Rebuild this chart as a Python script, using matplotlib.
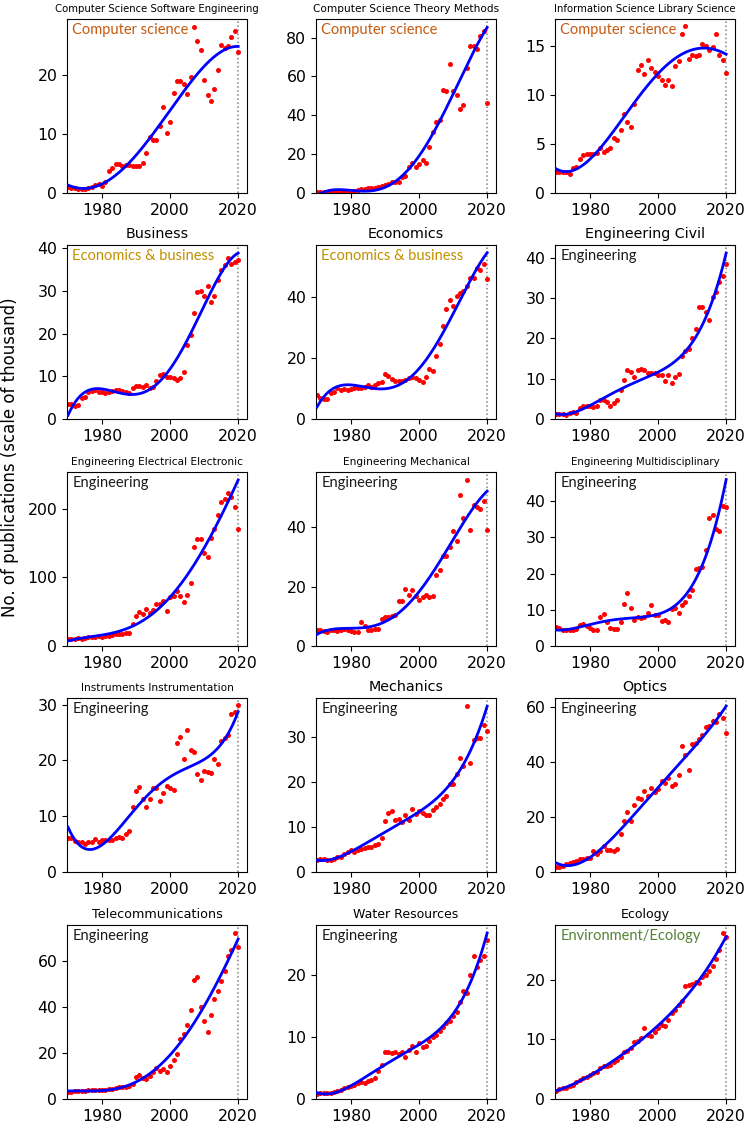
import numpy as np
import matplotlib
matplotlib.use("Agg")
from matplotlib import pyplot as plt

# publication counts per year (scale of thousand)
years = np.arange(1970, 2021)

cs_software = [1.0, 0.8, 0.8, 0.7, 0.7, 0.7, 0.8, 1.1, 1.4, 1.5,
               1.2, 1.8, 3.8, 4.2, 4.9, 4.9, 4.5, 4.7, 4.8, 4.5,
               4.5, 4.5, 5.1, 6.8, 9.5, 9.0, 8.9, 11.4, 14.6, 10.2,
               12.1, 16.9, 18.9, 19.0, 18.5, 16.8, 19.7, 28.1, 25.7, 24.2,
               19.2, 16.6, 15.5, 17.6, 20.9, 25.0, 24.6, 24.9, 26.4, 27.4, 23.8]
cs_theory = [0.3, 0.4, 0.4, 0.5, 0.5, 0.6, 0.6, 0.7, 0.7, 0.8,
             0.9, 1.0, 1.5, 2.0, 2.2, 2.4, 2.5, 2.7, 3.0, 3.4,
             4.0, 4.5, 5.5, 5.8, 5.8, 8.2, 8.5, 13.3, 15.6, 13.2,
             15.0, 17.1, 15.4, 23.6, 31.5, 36.6, 37.6, 52.8, 52.3, 66.3,
             52.5, 50.3, 43.4, 45.1, 64.3, 75.9, 75.6, 74.4, 81.0, 83.6, 46.5]
info_library = [2.1, 2.1, 2.1, 2.1, 1.9, 2.5, 2.7, 3.5, 3.9, 4.0,
                4.0, 4.0, 4.1, 4.6, 4.2, 4.4, 4.6, 5.6, 5.4, 6.4,
                8.1, 7.2, 6.7, 9.1, 12.5, 13.1, 12.1, 13.6, 12.8, 12.3,
                11.9, 11.5, 11.0, 11.5, 10.9, 13.0, 13.5, 16.2, 17.0, 13.7,
                14.1, 14.0, 14.1, 15.2, 15.0, 14.6, 14.9, 16.2, 14.1, 13.6, 12.2]
business = [3.6, 3.5, 3.1, 3.2, 4.8, 5.2, 6.4, 6.5, 6.7, 6.4,
            6.3, 6.2, 6.3, 6.5, 6.8, 6.7, 6.5, 6.3, 6.2, 7.2,
            7.8, 7.7, 7.6, 7.9, 7.2, 7.6, 9.0, 10.2, 10.6, 9.9,
            9.8, 9.5, 9.2, 9.5, 11.0, 17.2, 19.7, 24.9, 29.7, 30.0,
            28.7, 31.2, 27.3, 28.9, 32.6, 34.9, 36.0, 37.6, 36.2, 36.8, 37.1]
economics = [7.8, 7.0, 6.7, 6.7, 8.6, 8.8, 10.1, 9.6, 9.7, 9.4,
             9.7, 10.1, 10.1, 10.2, 10.5, 11.0, 10.6, 11.1, 11.8, 12.0,
             14.6, 14.1, 13.2, 12.6, 12.4, 12.6, 12.8, 13.3, 13.6, 13.4,
             12.9, 12.1, 13.7, 16.4, 15.8, 20.5, 24.5, 30.4, 35.9, 38.9,
             37.1, 40.4, 41.1, 41.9, 43.4, 46.1, 46.3, 49.4, 48.9, 50.7, 45.7]
eng_civil = [1.3, 1.3, 1.3, 1.0, 1.6, 1.8, 1.6, 2.8, 3.2, 3.2,
             3.3, 2.9, 3.3, 4.8, 4.8, 4.1, 3.3, 4.0, 4.8, 7.3,
             9.7, 12.1, 11.7, 10.4, 12.2, 12.3, 12.1, 11.5, 11.5, 11.5,
             11.0, 10.8, 9.4, 11.0, 8.9, 10.4, 11.2, 15.5, 16.9, 17.4,
             20.1, 22.2, 27.8, 27.8, 26.5, 24.5, 30.3, 31.4, 34.0, 35.5, 38.4]
eng_electrical = [10.0, 10.6, 10.6, 11.0, 10.0, 11.6, 12.6, 13.5, 13.5, 14.0,
                  13.5, 14.0, 15.0, 16.0, 18.0, 18.0, 17.4, 19.0, 19.3, 32.4,
                  44.4, 49.8, 46.9, 53.6, 48.8, 52.0, 61.0, 61.0, 65.7, 50.7,
                  71.5, 73.4, 80.7, 73.4, 63.8, 74.4, 91.3, 144.0, 155.6, 155.6,
                  136.0, 129.5, 157.0, 170.0, 191.0, 210.0, 215.0, 222.7, 217.0, 202.4, 170.0]
eng_mechanical = [5.3, 5.3, 4.9, 4.7, 5.3, 5.5, 5.1, 5.5, 5.6, 5.3,
                  5.1, 4.7, 4.7, 8.0, 6.9, 5.5, 5.4, 5.7, 5.7, 9.2,
                  9.7, 9.7, 10.0, 10.4, 15.1, 15.1, 19.2, 17.3, 18.9, 17.0,
                  15.6, 16.6, 17.1, 16.6, 17.0, 23.9, 25.7, 30.4, 30.2, 33.4,
                  38.8, 35.4, 50.8, 43.1, 56.0, 39.2, 47.6, 46.8, 46.1, 48.8, 39.1]
eng_multi = [5.2, 5.0, 4.3, 4.3, 4.3, 4.3, 4.8, 5.8, 6.0, 5.5,
             5.0, 4.3, 4.3, 8.1, 8.8, 6.6, 5.0, 4.8, 4.8, 6.6,
             11.6, 14.6, 10.5, 7.3, 8.1, 7.7, 7.9, 9.2, 11.2, 8.6,
             8.6, 6.9, 7.2, 6.6, 10.3, 10.6, 9.2, 11.4, 12.2, 13.7,
             15.4, 21.3, 21.5, 21.8, 26.5, 35.4, 36.3, 32.4, 31.9, 38.8, 38.5]
instruments = [6.1, 6.1, 5.5, 5.4, 5.3, 5.1, 5.3, 5.3, 6.0, 5.3,
               5.7, 5.8, 5.8, 5.7, 6.1, 6.2, 6.1, 6.8, 7.3, 11.7,
               14.5, 15.3, 13.1, 11.6, 13.1, 15.0, 15.1, 12.7, 14.2, 15.4,
               15.1, 14.7, 23.1, 24.2, 20.3, 25.4, 21.8, 21.5, 17.6, 16.5,
               18.1, 17.9, 17.7, 20.2, 19.4, 23.4, 24.0, 24.6, 28.3, 28.7, 29.9]
mechanics = [2.6, 2.8, 3.0, 2.6, 2.6, 3.0, 3.3, 3.4, 4.0, 4.4,
             4.8, 4.4, 4.9, 5.2, 5.4, 5.5, 5.6, 5.9, 6.2, 7.6,
             11.4, 13.1, 13.6, 11.6, 11.7, 11.2, 12.7, 11.5, 14.1, 12.8,
             13.6, 13.1, 12.6, 12.6, 13.7, 14.4, 15.1, 16.3, 16.9, 19.5,
             19.5, 21.9, 25.3, 23.6, 37.0, 24.3, 29.3, 29.8, 29.8, 32.8, 31.4]
optics = [1.9, 1.9, 2.2, 3.0, 3.4, 3.7, 4.0, 4.7, 4.6, 5.2,
          5.2, 7.6, 6.7, 7.7, 9.4, 8.1, 8.0, 7.8, 8.4, 13.7,
          18.4, 21.8, 18.6, 24.3, 26.9, 26.5, 29.4, 27.5, 30.5, 28.9,
          30.0, 33.0, 32.2, 34.2, 31.1, 31.8, 35.3, 45.9, 42.4, 37.0,
          46.6, 47.0, 48.2, 49.8, 52.5, 52.9, 54.9, 54.6, 57.3, 55.8, 50.4]
telecom = [3.0, 3.2, 3.3, 3.5, 3.4, 3.6, 3.8, 3.7, 3.9, 4.0,
           4.1, 4.0, 4.2, 4.3, 4.6, 5.0, 5.4, 5.3, 5.5, 6.5,
           9.5, 10.5, 9.0, 8.5, 10.0, 11.5, 13.5, 12.0, 13.0, 11.5,
           14.5, 17.0, 19.5, 26.0, 28.0, 32.0, 38.5, 51.5, 53.0, 40.0,
           34.0, 29.0, 36.5, 43.5, 47.0, 51.0, 55.5, 62.0, 64.5, 72.0, 66.0]
water = [0.8, 0.9, 0.9, 1.0, 1.0, 1.1, 1.3, 1.5, 1.8, 2.0,
         2.1, 2.2, 2.5, 2.8, 2.6, 2.9, 3.0, 3.3, 4.5, 5.5,
         7.6, 7.5, 7.4, 7.5, 7.3, 7.5, 6.8, 7.8, 8.5, 7.6,
         9.0, 8.3, 8.5, 9.4, 10.0, 10.3, 11.0, 11.6, 12.2, 12.5,
         13.3, 14.0, 15.6, 17.3, 17.0, 20.0, 23.0, 21.2, 22.3, 23.0, 25.6]
ecology = [1.3, 1.6, 1.8, 1.9, 2.2, 2.4, 2.8, 3.2, 3.5, 3.7,
           4.0, 4.3, 4.6, 5.2, 5.5, 5.6, 5.7, 6.2, 6.6, 7.0,
           7.9, 8.0, 8.6, 9.5, 9.8, 10.2, 11.9, 10.8, 10.6, 11.3,
           11.9, 12.5, 12.3, 13.2, 14.5, 15.0, 15.8, 16.5, 19.0, 19.2,
           19.3, 19.6, 19.5, 20.5, 20.8, 21.5, 22.3, 23.5, 25.0, 27.9, 27.2]

series = [cs_software, cs_theory, info_library,
          business, economics, eng_civil,
          eng_electrical, eng_mechanical, eng_multi,
          instruments, mechanics, optics,
          telecom, water, ecology]

titles = ["Computer Science Software Engineering", "Computer Science Theory Methods",
          "Information Science Library Science",
          "Business", "Economics", "Engineering Civil",
          "Engineering Electrical Electronic", "Engineering Mechanical",
          "Engineering Multidisciplinary",
          "Instruments Instrumentation", "Mechanics", "Optics",
          "Telecommunications", "Water Resources", "Ecology"]

fields = ["Computer science"] * 3 + ["Economics & business"] * 2 + ["Engineering"] * 9 \
    + ["Environment/Ecology"]

# styling
title_sizes = [7.3, 7.6, 7.3, 10.3, 10.3, 10.3, 7.6, 7.6, 7.4, 7.6, 10.3, 10.3, 9.2, 9.0, 9.0]
field_colors = {"Computer science": "#C55A11",
                "Economics & business": "#BF9000",
                "Engineering": "#1a1a1a",
                "Environment/Ecology": "#548235"}

W, H = 750, 1134
col_left = [67, 316, 555]
row_top = [19, 245, 472, 698, 925]
ax_w, ax_h = 180, 174

plt.rcParams['xtick.labelsize'] = 11.3
plt.rcParams['ytick.labelsize'] = 11.3

fig = plt.figure(figsize=(W / 100, H / 100), dpi=100)

for i, vals in enumerate(series):
    r, c = divmod(i, 3)
    ax = fig.add_axes([col_left[c] / W, 1 - (row_top[r] + ax_h) / H, ax_w / W, ax_h / H])
    vals = np.array(vals)

    # red points, then a 4th degree trend on top (2020 is incomplete, left out of the fit)
    ax.plot(years, vals, 'o', color='red', ms=3.6, mew=0, zorder=2)
    z = np.polyfit(years[:-1] - 1995, vals[:-1], 4)
    p = np.poly1d(z)
    xs = np.linspace(1970, 2020, 300)
    ax.plot(xs, p(xs - 1995), color='blue', lw=2, zorder=3)

    ax.axvline(2020, color='gray', ls=':', lw=1.1, zorder=1)
    ax.set_xlim(1969.7, 2022.6)
    ax.set_ylim(bottom=0)
    ax.set_xticks([1980, 2000, 2020])
    ax.set_title(titles[i], fontsize=title_sizes[i], pad=5)
    ax.text(0.03, 0.935, fields[i], transform=ax.transAxes, va='center', ha='left',
            fontsize=10.5, family=['Lato', 'DejaVu Sans'], color=field_colors[fields[i]])

fig.text(0.013, 0.597, 'No. of publications (scale of thousand)', rotation=90,
         va='center', ha='center', fontsize=12)

plt.savefig('out.png', dpi=100)
